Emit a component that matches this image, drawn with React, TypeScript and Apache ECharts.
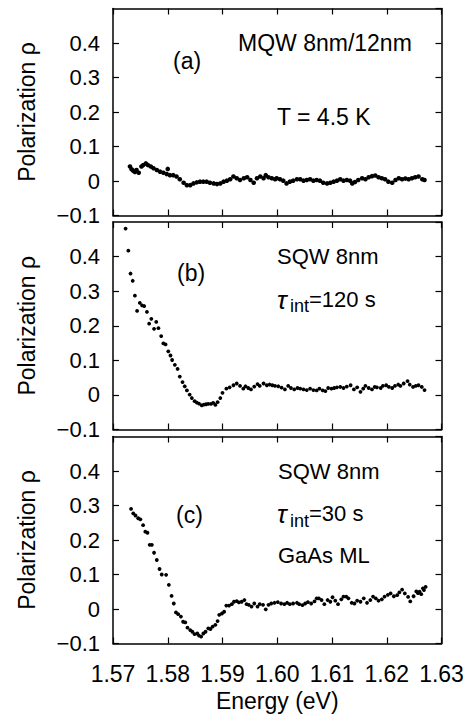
import React, { useEffect, useRef } from "react";
import * as echarts from "echarts";

// ---------- data ----------
// Panel (a): MQW 8nm/12nm, T = 4.5 K
const energyA = [
  1.5731, 1.5734, 1.5737, 1.574, 1.5743, 1.5747, 1.5752, 1.5755, 1.576, 1.5764,
  1.5769, 1.5774, 1.578, 1.5786, 1.5792, 1.5798, 1.58, 1.5804, 1.581, 1.5816,
  1.5822, 1.5829, 1.5835, 1.5841, 1.5847, 1.5853, 1.5859, 1.5865, 1.5871, 1.5877,
  1.5884, 1.589, 1.5896, 1.5902, 1.5908, 1.5914, 1.592, 1.5926, 1.5932, 1.5939,
  1.5945, 1.5951, 1.5957, 1.5963, 1.5969, 1.5975, 1.5979, 1.5984, 1.599, 1.5996,
  1.5999, 1.6005, 1.6011, 1.6017, 1.6023, 1.6029, 1.6036, 1.6042, 1.6048, 1.6054,
  1.606, 1.6066, 1.6072, 1.6078, 1.6084, 1.6091, 1.6097, 1.6103, 1.6109, 1.6115,
  1.6121, 1.6127, 1.6133, 1.6137, 1.6142, 1.6148, 1.6155, 1.6161, 1.6167, 1.6173,
  1.6179, 1.6185, 1.6191, 1.6197, 1.6203, 1.621, 1.6216, 1.6222, 1.6228, 1.6234,
  1.624, 1.6246, 1.6252, 1.6258, 1.6265, 1.6269,
];
const rhoA = [
  0.042, 0.034, 0.03, 0.026, 0.032, 0.024, 0.042, 0.046, 0.051, 0.046,
  0.042, 0.037, 0.032, 0.027, 0.024, 0.02, 0.035, 0.017, 0.017, 0.013,
  0.005, -0.005, -0.012, -0.012, -0.007, -0.004, -0.002, -0.002, -0.002, -0.005,
  -0.007, -0.009, -0.007, -0.002, 0.001, 0.005, 0.013, 0.008, 0.003, 0.008,
  0.011, 0.003, -0.005, 0.008, 0.013, 0.008, 0.017, 0.011, 0.008, 0.005,
  0.008, 0.005, 0.001, -0.007, -0.002, 0.001, 0.005, 0.005, 0.001, 0.003,
  0.005, 0.001, 0.003, 0.001, -0.005, -0.007, -0.005, -0.002, 0.001, 0.005,
  0.001, 0.003, 0.001, -0.007, -0.003, 0.003, 0.008, 0.005, 0.011, 0.014,
  0.016, 0.011, 0.008, 0.005, -0.002, -0.005, 0.003, 0.008, 0.005, 0.007,
  0.005, 0.008, 0.011, 0.013, 0.005, 0.003,
];

// Panel (b): SQW 8nm, tau_int = 120 s
const energyB = [
  1.5723, 1.5728, 1.5732, 1.5736, 1.574, 1.5744, 1.5749, 1.5753, 1.5757, 1.5762,
  1.5766, 1.577, 1.5775, 1.5779, 1.5783, 1.5788, 1.5792, 1.5796, 1.5801, 1.5805,
  1.5808, 1.5813, 1.5818, 1.5822, 1.5827, 1.5831, 1.5835, 1.584, 1.5844, 1.5849,
  1.5853, 1.5857, 1.5862, 1.5866, 1.587, 1.5874, 1.5879, 1.5883, 1.5887, 1.5891,
  1.5896, 1.59,
  1.5907, 1.5913, 1.592, 1.5926, 1.5932, 1.5938, 1.5942, 1.5947, 1.5952, 1.5958,
  1.5964, 1.5968, 1.5975, 1.5981, 1.5986, 1.5991, 1.5996, 1.6002, 1.6008, 1.6014,
  1.602, 1.6025, 1.6031, 1.6037, 1.6042, 1.6048, 1.6054, 1.606, 1.6066, 1.6072,
  1.6077, 1.6083, 1.6088, 1.6093, 1.6099, 1.6104, 1.6109, 1.6115, 1.6121, 1.6127,
  1.6134, 1.614, 1.6146, 1.6152, 1.6157, 1.6161, 1.6167, 1.6173, 1.6178, 1.6182,
  1.6189, 1.6193, 1.6199, 1.6204, 1.621, 1.6215, 1.6221, 1.6225, 1.6231, 1.6238,
  1.6242, 1.6248, 1.6253, 1.6258, 1.6264, 1.6269,
];
const rhoB = [
  0.481, 0.417, 0.351, 0.33, 0.287, 0.243, 0.266, 0.259, 0.257, 0.24,
  0.206, 0.22, 0.191, 0.211, 0.193, 0.17, 0.149, 0.146, 0.126, 0.114,
  0.101, 0.087, 0.075, 0.053, 0.037, 0.025, 0.013, 0.001, -0.009, -0.018,
  -0.022, -0.025, -0.03, -0.028, -0.027, -0.026, -0.026, -0.023, -0.029, -0.021,
  -0.009, 0.006,
  0.018, 0.022, 0.028, 0.033, 0.026, 0.018, 0.025, 0.02, 0.016, 0.024,
  0.031, 0.026, 0.033, 0.028, 0.03, 0.028, 0.026, 0.025, 0.021, 0.016,
  0.026, 0.02, 0.016, 0.02, 0.018, 0.016, 0.014, 0.018, 0.014, 0.013,
  0.018, 0.013, 0.011, 0.02, 0.018, 0.02, 0.022, 0.023, 0.02, 0.024,
  0.028, 0.016, 0.022, 0.009, 0.018, 0.026, 0.02, 0.016, 0.023, 0.022,
  0.02, 0.026, 0.028, 0.023, 0.02, 0.026, 0.03, 0.026, 0.033, 0.04,
  0.03, 0.023, 0.026, 0.028, 0.023, 0.014,
];

// Panel (c): SQW 8nm, tau_int = 30 s, GaAs ML
const energyC = [
  1.5733, 1.5737, 1.5741, 1.5746, 1.575, 1.5755, 1.5759, 1.5763, 1.5767, 1.5771,
  1.5775, 1.578, 1.5785, 1.5789, 1.5797, 1.5802, 1.5807, 1.5811, 1.5815,
  1.5819, 1.5824, 1.5828, 1.5832, 1.5836, 1.5841, 1.5845, 1.5849, 1.5854, 1.5857,
  1.5861, 1.5865, 1.5869, 1.5874, 1.5878, 1.5882, 1.5887, 1.5891, 1.5894, 1.5899,
  1.5903, 1.5907, 1.5912, 1.5917, 1.5921, 1.5926, 1.593, 1.5935, 1.594,
  1.5944, 1.5948, 1.5953, 1.5958, 1.5964, 1.5968, 1.5974, 1.5979, 1.5984, 1.5989,
  1.5995, 1.6001, 1.6007, 1.6013, 1.6018, 1.6023, 1.6029, 1.6036, 1.604, 1.6046,
  1.6051, 1.6056, 1.6062, 1.6068, 1.6072, 1.6076, 1.6081, 1.6086, 1.6092, 1.6097,
  1.6101, 1.6106, 1.6111, 1.6117, 1.6121, 1.6126, 1.613, 1.6136, 1.6141, 1.6146,
  1.6152, 1.6158, 1.6164, 1.617, 1.6175, 1.618, 1.6185, 1.6191, 1.6196, 1.6202,
  1.6207, 1.6213, 1.6219, 1.6223, 1.6228, 1.6233, 1.6239, 1.6243, 1.6249, 1.6254,
  1.6257, 1.626, 1.6263, 1.6266, 1.6268, 1.6271,
];
const rhoC = [
  0.29, 0.277, 0.271, 0.263, 0.26, 0.243, 0.224, 0.221, 0.186, 0.186,
  0.163, 0.142, 0.116, 0.1, 0.099, 0.07, 0.038, 0.016, -0.01,
  -0.015, -0.022, -0.037, -0.039, -0.054, -0.061, -0.066, -0.073, -0.071, -0.077,
  -0.08, -0.071, -0.066, -0.056, -0.058, -0.051, -0.046, -0.035, -0.017, -0.013,
  -0.008, 0.01, 0.01, 0.014, 0.021, 0.023, 0.019, 0.021, 0.026,
  0.014, 0.012, 0.007, 0.016, 0.007, 0.014, 0.012, -0.001, 0.012, 0.016,
  0.018, 0.02, 0.016, 0.014, 0.018, 0.014, 0.016, 0.018, 0.014, 0.011,
  0.016, 0.02, 0.016, 0.022, 0.031, 0.031, 0.026, 0.014, 0.026, 0.021,
  0.034, 0.024, 0.014, 0.028, 0.036, 0.036, 0.031, 0.018, 0.016, 0.024,
  0.021, 0.031, 0.018, 0.026, 0.036, 0.031, 0.024, 0.028, 0.036, 0.041,
  0.045, 0.037, 0.04, 0.048, 0.056, 0.045, 0.035, 0.022, 0.037, 0.051,
  0.046, 0.05, 0.043, 0.06, 0.055, 0.064,
];

const energyTicks = [1.57, 1.63, 0.01]; // min, max, step
const rhoTicks = [-0.1, 0.5, 0.1]; // min, max, step
const panelLabels = ["(a)", "(b)", "(c)"];
const yAxisTitle = "Polarization \u03c1";
const xAxisTitle = "Energy (eV)";

const FONT = '"Liberation Sans", Arial, Helvetica, sans-serif';

function pairs(xs: number[], ys: number[]) {
  return xs.map((x, i) => [x, ys[i]]);
}

function txt(text: string, x: number, y: number, size: number, extra: any = {}) {
  return {
    type: "text",
    x,
    y,
    silent: true,
    style: {
      text,
      fill: "#000",
      fontSize: size,
      fontFamily: FONT,
      align: "left",
      verticalAlign: "middle",
      textAlign: "left",
      textVerticalAlign: "middle",
      ...extra,
    },
  };
}

export default function App() {
  const ref = useRef<HTMLDivElement>(null);

  useEffect(() => {
    if (!ref.current) return;
    const chart = echarts.init(ref.current, undefined, { renderer: "svg" });

    const grids = [
      { left: 113, top: 8.5, width: 328.5, height: 207 },
      { left: 113, top: 222, width: 328.5, height: 207.5 },
      { left: 113, top: 436.5, width: 328.5, height: 207 },
    ];

    const lineStyle = { color: "#000", width: 1.5 };
    const tickStyle = { color: "#000", width: 1.2 };

    const xAxes: any[] = [];
    const yAxes: any[] = [];
    for (let i = 0; i < 3; i++) {
      const base = {
        type: "value",
        gridIndex: i,
        min: energyTicks[0],
        max: energyTicks[1],
        interval: energyTicks[2],
        axisLine: { show: true, onZero: false, lineStyle },
        axisTick: { show: true, inside: true, length: 6, lineStyle: tickStyle },
        splitLine: { show: false },
      };
      xAxes.push({
        ...base,
        position: "bottom",
        axisLabel: {
          show: i === 2,
          margin: 19,
          fontSize: 23,
          color: "#000",
          fontFamily: FONT,
          formatter: (v: number) => v.toFixed(2),
        },
        name: i === 2 ? xAxisTitle : "",
        nameLocation: "middle",
        nameGap: 46,
        nameTextStyle: { fontSize: 23, color: "#000", fontFamily: FONT },
      });
      xAxes.push({ ...base, position: "top", axisLabel: { show: false } });

      const ybase = {
        type: "value",
        gridIndex: i,
        min: rhoTicks[0],
        max: rhoTicks[1],
        interval: rhoTicks[2],
        axisLine: { show: true, onZero: false, lineStyle },
        axisTick: { show: true, inside: true, length: 6, lineStyle: tickStyle },
        splitLine: { show: false },
      };
      yAxes.push({
        ...ybase,
        position: "left",
        axisLabel: {
          show: true,
          margin: 13,
          fontSize: 22,
          color: "#000",
          fontFamily: FONT,
          showMaxLabel: false,
          formatter: (v: number) => {
            if (Math.abs(v - 0.5) < 1e-9) return "";
            if (Math.abs(v) < 1e-9) return "0";
            if (v < 0) return "\u2212" + Math.abs(v).toFixed(1);
            return v.toFixed(1);
          },
        },
        name: yAxisTitle,
        nameLocation: "middle",
        nameGap: 75,
        nameTextStyle: { fontSize: 23, color: "#000", fontFamily: FONT },
      });
      yAxes.push({ ...ybase, position: "right", axisLabel: { show: false } });
    }

    const datasets = [
      pairs(energyA, rhoA),
      pairs(energyB, rhoB),
      pairs(energyC, rhoC),
    ];
    const series = datasets.map((d, i) => ({
      type: "scatter",
      xAxisIndex: i * 2,
      yAxisIndex: i * 2,
      data: d,
      symbol: "circle",
      symbolSize: i === 0 ? 4.6 : 3.8,
      itemStyle: { color: "#000", opacity: 1 },
      silent: true,
    }));

    const graphics = [
      txt(panelLabels[0], 173, 61, 23),
      txt("MQW 8nm/12nm", 238, 43, 23),
      txt("T = 4.5 K", 277, 117, 23),
      txt(panelLabels[1], 177, 273, 23),
      txt("SQW 8nm", 277, 256, 22),
      txt("\u03c4", 277, 300, 26, { fontStyle: "italic" }),
      txt("int", 290, 306, 18),
      txt("=120 s", 309, 299, 22),
      txt(panelLabels[2], 176, 515, 23),
      txt("SQW 8nm", 278, 471, 22),
      txt("\u03c4", 277, 514, 26, { fontStyle: "italic" }),
      txt("int", 290, 521, 18),
      txt("=30 s", 309, 513, 22),
      txt("GaAs ML", 278, 555, 22),
    ];

    chart.setOption({
      animation: false,
      backgroundColor: "#fff",
      grid: grids,
      xAxis: xAxes,
      yAxis: yAxes,
      series,
      graphic: graphics,
    });

    return () => chart.dispose();
  }, []);

  return (
    <div
      ref={ref}
      style={{ position: "absolute", left: 0, top: 0, width: 467, height: 716 }}
    />
  );
}
